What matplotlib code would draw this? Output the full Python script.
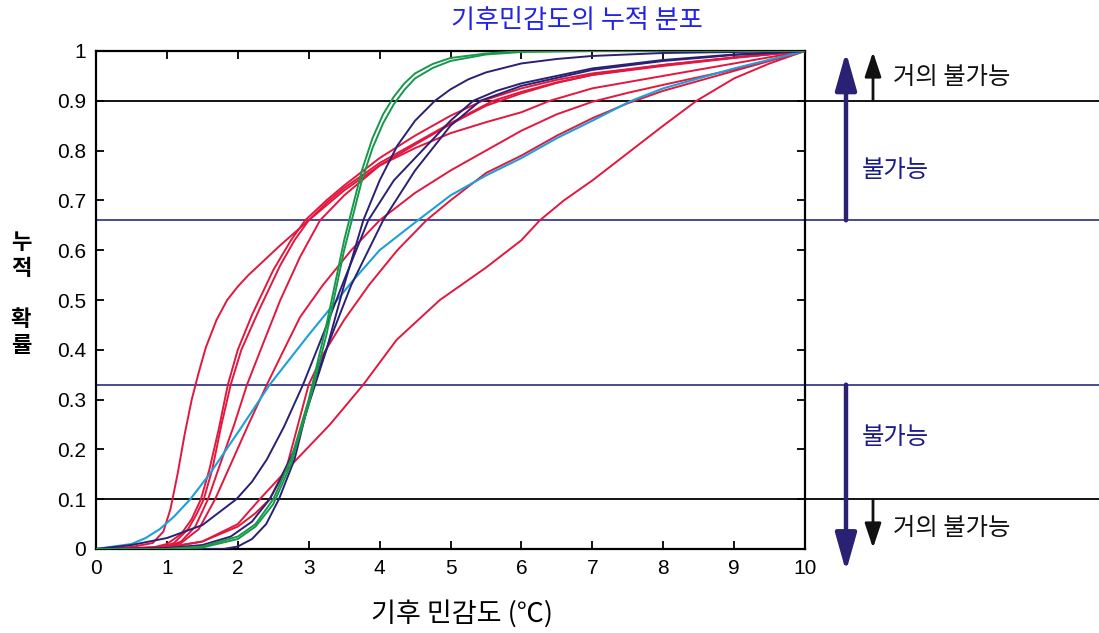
import matplotlib
matplotlib.use("Agg")
import matplotlib.pyplot as plt
from matplotlib.transforms import blended_transform_factory

plt.rcParams['font.family'] = ['Liberation Sans', 'Noto Sans CJK KR', 'DejaVu Sans']
KR = ['Noto Sans CJK KR', 'DejaVu Sans']

# ---- data: cumulative probability vs climate sensitivity (°C) ----
x_ticks = [0, 1, 2, 3, 4, 5, 6, 7, 8, 9, 10]
y_ticks = [0, 0.1, 0.2, 0.3, 0.4, 0.5, 0.6, 0.7, 0.8, 0.9, 1.0]
y_tick_labels = ['0', '0.1', '0.2', '0.3', '0.4', '0.5', '0.6', '0.7', '0.8', '0.9', '1']

# red distributions
red1_x = [0, 0.5, 0.8, 0.95, 1.05, 1.15, 1.25, 1.35, 1.45, 1.55, 1.7, 1.85, 2.0, 2.15, 2.3, 2.6, 3.0, 3.5, 4.0, 4.5, 5.0, 5.5, 6.0, 6.5, 7.0, 8.0, 9.0, 10]
red1_y = [0, 0.004, 0.012, 0.035, 0.08, 0.15, 0.23, 0.30, 0.355, 0.405, 0.46, 0.5, 0.527, 0.55, 0.57, 0.61, 0.66, 0.72, 0.77, 0.812, 0.853, 0.89, 0.915, 0.936, 0.952, 0.972, 0.987, 1.0]

red2_x = [0, 0.8, 1.0, 1.2, 1.35, 1.48, 1.6, 1.73, 1.86, 2.0, 2.2, 2.5, 2.75, 2.95, 3.25, 3.5, 4.0, 4.5, 5.0, 5.45, 6, 6.5, 7, 8, 9, 10]
red2_y = [0, 0.003, 0.01, 0.03, 0.06, 0.1, 0.16, 0.24, 0.33, 0.4, 0.47, 0.56, 0.62, 0.66, 0.7, 0.73, 0.785, 0.83, 0.87, 0.9, 0.925, 0.942, 0.955, 0.972, 0.987, 1.0]

red3_x = [0, 0.9, 1.1, 1.3, 1.42, 1.52, 1.64, 1.77, 1.9, 2.05, 2.3, 2.6, 2.8, 3.0, 3.25, 3.5, 4.0, 4.5, 5.0, 5.6, 6, 6.5, 7, 8, 9, 10]
red3_y = [0, 0.003, 0.012, 0.04, 0.07, 0.1, 0.16, 0.25, 0.33, 0.4, 0.48, 0.57, 0.62, 0.66, 0.695, 0.725, 0.775, 0.815, 0.855, 0.9, 0.918, 0.937, 0.952, 0.97, 0.986, 1.0]

red4_x = [0, 1.0, 1.2, 1.45, 1.68, 1.9, 2.15, 2.41, 2.65, 2.88, 3.2, 3.6, 4.0, 4.5, 5.0, 5.5, 6.0, 6.5, 7, 7.5, 8, 9, 10]
red4_y = [0, 0.003, 0.012, 0.04, 0.1, 0.17, 0.25, 0.33, 0.4, 0.466, 0.53, 0.6, 0.66, 0.715, 0.76, 0.8, 0.84, 0.873, 0.898, 0.916, 0.932, 0.963, 1.0]

red5_x = [0, 1.0, 1.5, 2.0, 2.25, 2.45, 2.7, 2.85, 3.0, 3.2, 3.5, 3.85, 4.25, 4.66, 5.0, 5.5, 6.0, 6.5, 7.0, 7.5, 8.0, 9.0, 10]
red5_y = [0, 0.003, 0.015, 0.045, 0.072, 0.1, 0.17, 0.25, 0.33, 0.39, 0.46, 0.53, 0.6, 0.66, 0.7, 0.755, 0.79, 0.83, 0.865, 0.895, 0.92, 0.96, 1.0]

red6_x = [0, 1.0, 1.2, 1.4, 1.58, 1.75, 1.95, 2.13, 2.35, 2.6, 2.88, 3.16, 3.5, 4.0, 4.5, 5.0, 5.5, 6.0, 6.4, 7, 8, 9, 10]
red6_y = [0, 0.004, 0.015, 0.045, 0.1, 0.17, 0.25, 0.33, 0.41, 0.5, 0.587, 0.66, 0.71, 0.77, 0.805, 0.835, 0.857, 0.877, 0.9, 0.925, 0.95, 0.975, 1.0]

red7_x = [0, 1.0, 1.5, 2.0, 2.31, 2.83, 3.3, 3.77, 4.24, 4.85, 5.5, 6.0, 6.26, 6.6, 7.0, 7.5, 8.0, 8.47, 9.0, 9.5, 10]
red7_y = [0, 0.003, 0.015, 0.05, 0.1, 0.18, 0.25, 0.33, 0.42, 0.5, 0.565, 0.62, 0.66, 0.7, 0.74, 0.795, 0.85, 0.9, 0.945, 0.975, 1.0]

# cyan distribution
cyan_x = [0, 0.5, 0.7, 0.9, 1.1, 1.33, 1.6, 2.03, 2.31, 2.45, 3.0, 3.63, 4.0, 4.54, 5.0, 5.5, 6.0, 6.5, 7.0, 7.55, 8.0, 9.0, 10]
cyan_y = [0, 0.01, 0.022, 0.04, 0.065, 0.1, 0.15, 0.24, 0.3, 0.33, 0.43, 0.54, 0.6, 0.66, 0.71, 0.75, 0.785, 0.825, 0.86, 0.9, 0.925, 0.965, 1.0]

# navy distributions
navy1_x = [0, 1.0, 1.5, 1.9, 2.2, 2.45, 2.6, 2.8, 3.0, 3.25, 3.5, 3.77, 4.0, 4.25, 4.5, 4.78, 5.0, 5.25, 5.5, 6, 6.5, 7, 8, 10]
navy1_y = [0, 0.002, 0.008, 0.025, 0.055, 0.1, 0.14, 0.2, 0.29, 0.4, 0.53, 0.66, 0.74, 0.81, 0.86, 0.9, 0.923, 0.943, 0.957, 0.975, 0.984, 0.99, 0.996, 1.0]

navy2_x = [0, 0.5, 1.0, 1.5, 1.98, 2.2, 2.41, 2.65, 2.92, 3.2, 3.5, 3.84, 4.2, 4.6, 5.0, 5.32, 5.65, 6, 7, 8, 9, 10]
navy2_y = [0, 0.008, 0.022, 0.048, 0.1, 0.135, 0.18, 0.245, 0.33, 0.43, 0.54, 0.66, 0.74, 0.8, 0.86, 0.9, 0.92, 0.935, 0.965, 0.982, 0.993, 1.0]

navy3_x = [0, 1.8, 2.0, 2.2, 2.4, 2.58, 2.8, 3.06, 3.3, 3.6, 4.05, 4.5, 5.0, 5.42, 6, 7, 8, 9, 10]
navy3_y = [0, 0, 0.005, 0.02, 0.05, 0.1, 0.18, 0.33, 0.42, 0.53, 0.66, 0.76, 0.85, 0.9, 0.93, 0.962, 0.98, 0.992, 1.0]

# green distributions
green1_x = [0, 1.0, 1.5, 2.0, 2.25, 2.5, 2.75, 3.0, 3.25, 3.5, 3.75, 3.9, 4.05, 4.2, 4.35, 4.5, 4.75, 5.0, 5.5, 6.0, 10]
green1_y = [0, 0, 0.005, 0.025, 0.05, 0.1, 0.18, 0.3, 0.45, 0.62, 0.76, 0.825, 0.873, 0.908, 0.935, 0.955, 0.974, 0.986, 0.995, 1.0, 1.0]

green2_x = [0, 1.0, 1.5, 2.0, 2.25, 2.5, 2.75, 3.0, 3.25, 3.5, 3.75, 3.9, 4.05, 4.2, 4.35, 4.5, 4.75, 5.0, 5.5, 6.0, 7.0, 10]
green2_y = [0, 0, 0.003, 0.02, 0.045, 0.09, 0.17, 0.29, 0.43, 0.6, 0.74, 0.805, 0.855, 0.893, 0.922, 0.945, 0.966, 0.98, 0.993, 0.998, 1.0, 1.0]

# probability thresholds
black_levels = [0.1, 0.9]
navy_levels = [0.33, 0.66]

title = '기후민감도의 누적 분포'
xlabel = '기후 민감도 (℃)'
ylabel = '누\n적\n\n확\n률'
label_nearly = '거의 불가능'
label_unlikely = '불가능'

RED = '#E3173E'
CYAN = '#1CA0DA'
NAVY = '#2B2174'
GREEN = '#17984A'
LINE_NAVY = '#3A3A8E'

fig = plt.figure(figsize=(10.99, 6.33), dpi=100)
ax = fig.add_axes([96 / 1099, 1 - 549 / 633, 709 / 1099, 498 / 633])

red_series = [(red1_x, red1_y), (red2_x, red2_y), (red3_x, red3_y), (red4_x, red4_y),
              (red5_x, red5_y), (red6_x, red6_y), (red7_x, red7_y)]
for xs, ys in red_series:
    ax.plot(xs, ys, color=RED, lw=1.4, zorder=3, solid_joinstyle='round')
ax.plot(cyan_x, cyan_y, color=CYAN, lw=1.5, zorder=3, solid_joinstyle='round')
for xs, ys in [(navy1_x, navy1_y), (navy2_x, navy2_y), (navy3_x, navy3_y)]:
    ax.plot(xs, ys, color=NAVY, lw=1.4, zorder=4, solid_joinstyle='round')
for xs, ys in [(green1_x, green1_y), (green2_x, green2_y)]:
    ax.plot(xs, ys, color=GREEN, lw=1.4, zorder=5, solid_joinstyle='round')

# threshold lines run past the plot to the right edge of the figure
x_end = (1099 - 96) / 709
for lv in black_levels:
    ax.axhline(lv, xmin=0, xmax=x_end, color='black', lw=1.3, clip_on=False, zorder=2)
for lv in navy_levels:
    ax.axhline(lv, xmin=0, xmax=x_end, color=LINE_NAVY, lw=1.3, clip_on=False, zorder=2)

ax.set_xlim(0, 10)
ax.set_ylim(0, 1)
ax.set_xticks(x_ticks)
ax.set_yticks(y_ticks)
ax.set_yticklabels(y_tick_labels)
ax.tick_params(direction='in', length=6, width=1.3, top=True, right=True,
               labelsize=15, pad=7)
for s in ax.spines.values():
    s.set_linewidth(1.6)

# arrows on the right
tr = blended_transform_factory(ax.transAxes, ax.transData)
xa_big = (846 - 96) / 709
xa_small = (873 - 96) / 709
big_style = dict(arrowstyle='-|>,head_length=2.3,head_width=0.65', lw=3.2,
                 color=NAVY, shrinkA=0, shrinkB=0)
small_style = dict(arrowstyle='-|>,head_length=1.5,head_width=0.5', lw=2.0,
                   color='#111111', shrinkA=0, shrinkB=0)
ax.annotate('', xy=(xa_big, 0.998), xytext=(xa_big, 0.66), xycoords=tr, textcoords=tr,
            arrowprops=big_style, annotation_clip=False)
ax.annotate('', xy=(xa_big, -0.045), xytext=(xa_big, 0.33), xycoords=tr, textcoords=tr,
            arrowprops=big_style, annotation_clip=False)
ax.annotate('', xy=(xa_small, 0.998), xytext=(xa_small, 0.9), xycoords=tr, textcoords=tr,
            arrowprops=small_style, annotation_clip=False)
ax.annotate('', xy=(xa_small, 0.002), xytext=(xa_small, 0.1), xycoords=tr, textcoords=tr,
            arrowprops=small_style, annotation_clip=False)

fig.text(893 / 1099, 1 - 77 / 633, label_nearly, family=KR, fontsize=17.5, color='#111111',
         ha='left', va='center')
fig.text(893 / 1099, 1 - 528 / 633, label_nearly, family=KR, fontsize=17.5, color='#111111',
         ha='left', va='center')
fig.text(862 / 1099, 1 - 170 / 633, label_unlikely, family=KR, fontsize=17.5, color='#1A1A8C',
         ha='left', va='center')
fig.text(862 / 1099, 1 - 437 / 633, label_unlikely, family=KR, fontsize=17.5, color='#1A1A8C',
         ha='left', va='center')

fig.text(577 / 1099, 1 - 20 / 633, title, family=KR, fontsize=18.8, color='#2323E6',
         ha='center', va='center')
fig.text(462 / 1099, 1 - 614 / 633, xlabel, family=KR, fontsize=19.5, color='black',
         ha='center', va='center')
fig.text(21 / 1099, 1 - 294 / 633, ylabel, family=KR, fontsize=16, color='black',
         weight='bold', ha='center', va='center', linespacing=1.15)

fig.savefig('out.png', dpi=100)
